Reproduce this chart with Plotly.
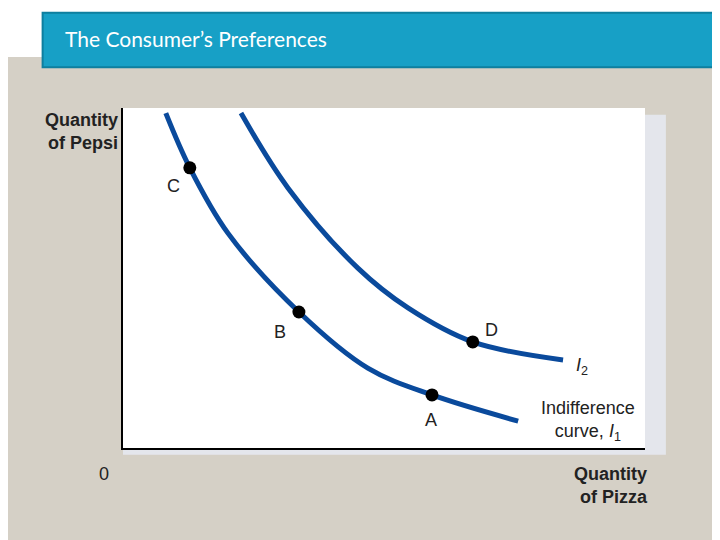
import plotly.graph_objects as go

# curve I1 (lower) and I2 (upper), in plot units 0-100
i1_x = [8.2, 12.8, 20.1, 33.7, 46.9, 59.2, 75.7]
i1_y = [98.5, 82.4, 63.2, 40.0, 23.5, 15.6, 7.9]
i2_x = [22.6, 31.6, 45.0, 54.6, 67.0, 84.3]
i2_y = [98.5, 76.5, 52.9, 41.2, 31.2, 25.9]

pt_names = ['C', 'B', 'A', 'D']
pt_x = [12.8, 33.7, 59.2, 67.0]
pt_y = [82.4, 40.0, 15.6, 31.2]

blue = '#0a4a9c'
fig = go.Figure()
fig.add_trace(go.Scatter(x=i1_x, y=i1_y, mode='lines', line=dict(color=blue, width=5, shape='spline')))
fig.add_trace(go.Scatter(x=i2_x, y=i2_y, mode='lines', line=dict(color=blue, width=5, shape='spline')))
fig.add_trace(go.Scatter(x=pt_x, y=pt_y, mode='markers', marker=dict(color='black', size=13)))

font = dict(family='Liberation Sans, Arial', size=18, color='#222')
label_off = {'C': (-3.2, -5.3), 'B': (-3.6, -6), 'A': (-0.2, -7.4), 'D': (3.6, 3.5)}
for n, x, y in zip(pt_names, pt_x, pt_y):
    dx, dy = label_off[n]
    fig.add_annotation(x=x + dx, y=y + dy, text=n, showarrow=False, font=font)

fig.add_annotation(x=88, y=24, text='<i>I</i><sub>2</sub>', showarrow=False, font=font)
fig.add_annotation(x=89, y=8, text='Indifference<br>curve, <i>I</i><sub>1</sub>', showarrow=False, font=font)

bold = dict(family='Liberation Sans, Arial', size=18, color='#222')
fig.add_annotation(xref='paper', yref='paper', x=-0.005, y=1.0, xanchor='right', yanchor='top',
                   text='<b>Quantity<br>of Pepsi</b>', showarrow=False, font=bold, align='right')
fig.add_annotation(xref='paper', yref='paper', x=0.935, y=-0.04, xanchor='center', yanchor='top',
                   text='<b>Quantity<br>of Pizza</b>', showarrow=False, font=bold, align='right')
fig.add_annotation(xref='paper', yref='paper', x=-0.05, y=-0.04, yanchor='top',
                   text='0', showarrow=False, font=font)

# background bands and title bar
fig.add_shape(type='rect', xref='paper', yref='paper', x0=-0.25, x1=1.2, y0=-0.3, y1=1.2,
              fillcolor='#d5d0c6', line_width=0, layer='below')
fig.add_shape(type='rect', xref='paper', yref='paper', x0=-0.25, x1=1.2, y0=1.15, y1=1.35,
              fillcolor='white', line_width=0, layer='below')
fig.add_shape(type='rect', xref='paper', yref='paper', x0=0, x1=1.04, y0=-0.02, y1=0.98,
              fillcolor='#e4e6ec', line_width=0, layer='below')
fig.add_shape(type='rect', xref='paper', yref='paper', x0=0, x1=1, y0=0, y1=1,
              fillcolor='white', line_width=0, layer='below')
fig.add_shape(type='rect', xref='paper', yref='paper', x0=-0.154, x1=1.145, y0=1.12, y1=1.28,
              fillcolor='#17a0c6', line=dict(color='#0e7f9f', width=2))
fig.add_annotation(xref='paper', yref='paper', x=-0.115, y=1.205, xanchor='left', yanchor='middle',
                   text="The Consumer’s Preferences", showarrow=False,
                   font=dict(family='Lato, Open Sans', size=21, color='white'))

fig.update_xaxes(range=[0, 100], showgrid=False, zeroline=False, showticklabels=False,
                 showline=True, linecolor='black', linewidth=2, ticks='')
fig.update_yaxes(range=[0, 100], showgrid=False, zeroline=False, showticklabels=False,
                 showline=True, linecolor='black', linewidth=2, ticks='')
fig.update_layout(width=720, height=540, showlegend=False,
                  margin=dict(l=115, r=83, t=100, b=100),
                  paper_bgcolor='#d5d0c6', plot_bgcolor='rgba(0,0,0,0)')

fig.write_html('out.html')
